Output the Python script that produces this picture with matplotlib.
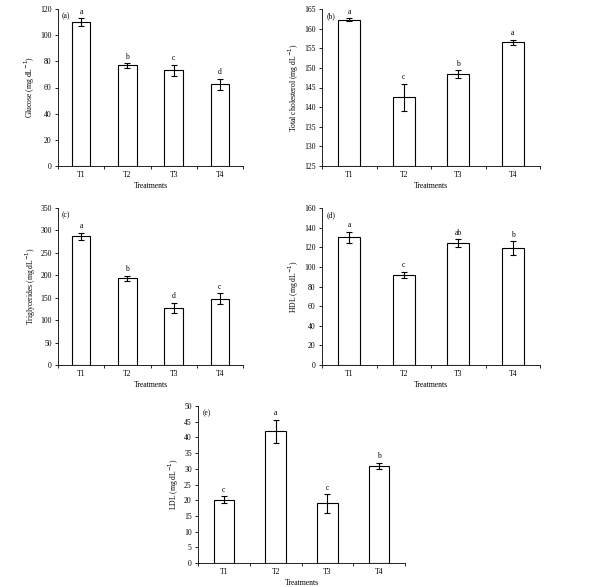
import matplotlib
matplotlib.use("Agg")
import matplotlib.pyplot as plt
from matplotlib.ticker import FixedLocator

plt.rcParams['font.family'] = 'Liberation Serif'
plt.rcParams['font.size'] = 5.5

categories = ["T1", "T2", "T3", "T4"]
glucose = [110, 77, 73, 62.5]
glucose_err = [3, 1.8, 4.5, 4.3]
glucose_let = ["a", "b", "c", "d"]
tc = [162.3, 142.5, 148.4, 156.5]
tc_err = [0.3, 3.5, 1.0, 0.7]
tc_let = ["a", "c", "b", "a"]
tg = [287, 193, 127, 148]
tg_err = [8, 6, 12, 12]
tg_let = ["a", "b", "d", "c"]
hdl = [130, 92, 124, 119]
hdl_err = [6, 3, 4, 7]
hdl_let = ["a", "c", "ab", "b"]
ldl = [20.2, 42, 19, 31]
ldl_err = [1, 3.7, 3, 1]
ldl_let = ["c", "a", "c", "b"]

W, H = 600, 587
fig = plt.figure(figsize=(W/100, H/100), dpi=100)

def ax_at(x0, y0, x1, y1):
    return fig.add_axes([x0/W, 1-y1/H, (x1-x0)/W, (y1-y0)/H])

panels = [
    ((58, 9, 243, 166), glucose, glucose_err, glucose_let, "(a)", "Glucose (mg dL$^{-1}$)", (0, 120), 20),
    ((322, 9, 540, 166), tc, tc_err, tc_let, "(b)", "Total cholesterol (mg dL$^{-1}$)", (125, 165), 5),
    ((58, 208, 243, 365), tg, tg_err, tg_let, "(c)", "Triglycerides (mg dL$^{-1}$)", (0, 350), 50),
    ((322, 208, 540, 365), hdl, hdl_err, hdl_let, "(d)", "HDL (mg dL$^{-1}$)", (0, 160), 20),
    ((198, 406, 405, 563), ldl, ldl_err, ldl_let, "(e)", "LDL (mg dL$^{-1}$)", (0, 50), 5),
]

for box, vals, errs, lets, tag, ylab, ylim, step in panels:
    ax = ax_at(*box)
    x = range(len(categories))
    ax.bar(x, [v - ylim[0] for v in vals], bottom=ylim[0], width=0.4, color="white",
           edgecolor="black", linewidth=0.8)
    ax.errorbar(x, vals, yerr=errs, fmt="none", ecolor="black", elinewidth=0.8, capsize=2.5, capthick=0.8)
    rng = ylim[1] - ylim[0]
    for xi, v, e, l in zip(x, vals, errs, lets):
        ax.text(xi, v + e + rng*0.015, l, ha="center", va="bottom", fontsize=5.5)
    ax.set_xlim(-0.5, 3.5)
    ax.set_ylim(*ylim)
    ax.set_yticks([ylim[0] + i*step for i in range(int(rng/step)+1)])
    ax.set_xticks(list(x))
    ax.set_xticklabels(categories)
    ax.xaxis.set_minor_locator(FixedLocator([-0.5, 0.5, 1.5, 2.5, 3.5]))
    ax.tick_params(axis="x", which="major", length=0)
    ax.tick_params(axis="x", which="minor", length=2.5, width=0.6)
    ax.tick_params(axis="y", length=2.5, width=0.6, pad=2)
    ax.spines["top"].set_visible(False)
    ax.spines["right"].set_visible(False)
    for s in ("left", "bottom"):
        ax.spines[s].set_linewidth(0.6)
    ax.set_xlabel("Treatments", labelpad=2)
    ax.set_ylabel(ylab, labelpad=2)
    ax.text(0.02, 0.98, tag, transform=ax.transAxes, ha="left", va="top", fontsize=5.5)

fig.savefig("out.png", dpi=100)
